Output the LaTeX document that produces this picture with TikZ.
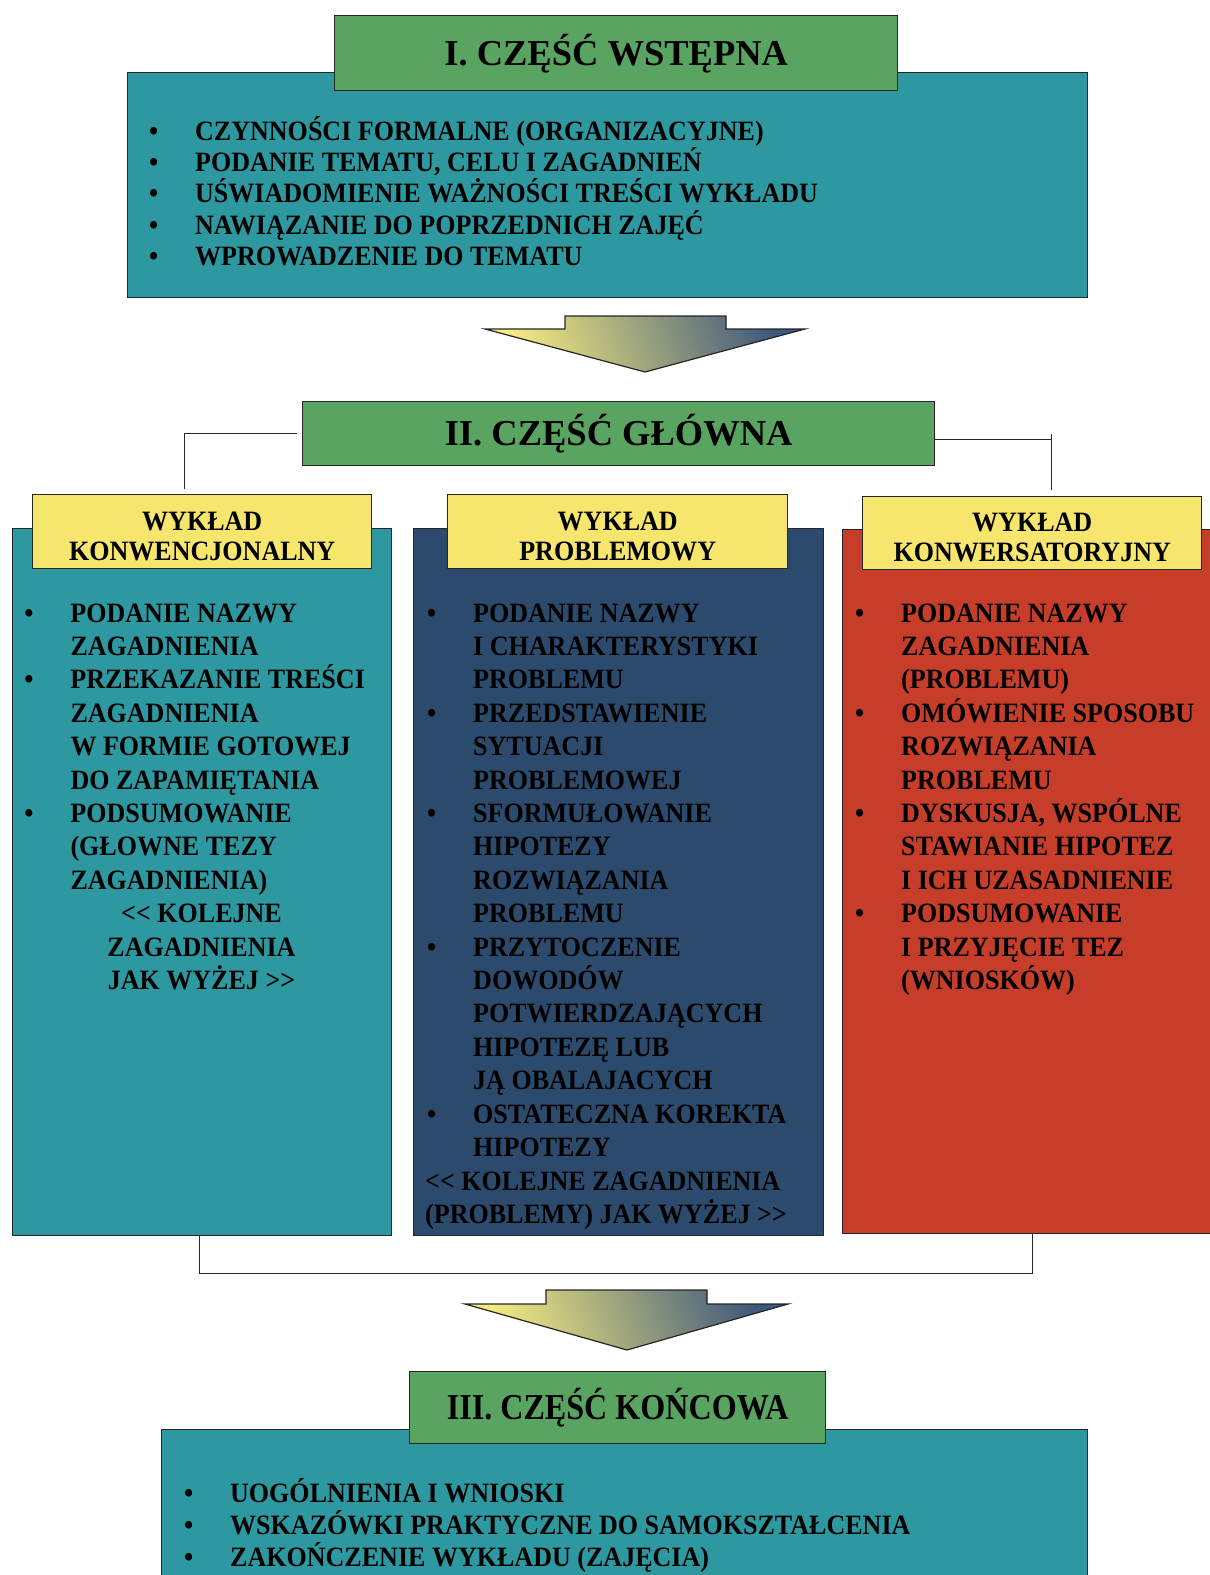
\documentclass[tikz,border=0pt]{standalone}
\usepackage{fontspec}
\setmainfont{Liberation Serif}
\newfontfamily\bodyfont{Liberation Serif}[FakeStretch=0.93]
\usepackage{tikz}
\usetikzlibrary{calc,positioning}

\definecolor{tealbg}{RGB}{46,152,160}
\definecolor{greenbg}{RGB}{90,164,98}
\definecolor{yellowbg}{RGB}{247,230,110}
\definecolor{navybg}{RGB}{44,74,108}
\definecolor{redbg}{RGB}{198,62,42}
\definecolor{arrowyel}{RGB}{246,236,128}
\definecolor{arrowblue}{RGB}{62,88,124}

\newcommand{\bul}{\leavevmode\llap{\textbullet\hspace{37pt}}}
\newcommand{\linelist}[1]{\begin{minipage}[t]{1000pt}\raggedright\lineskiplimit=-\maxdimen #1\end{minipage}}
\newcommand{\headtext}[1]{\begin{minipage}[c]{336pt}\centering\lineskiplimit=-\maxdimen\vspace*{9pt}#1\end{minipage}}

\begin{document}
\begin{tikzpicture}[x=1pt,y=-1pt]
  \tikzstyle{box} = [draw=black!85, line width=1.4pt, inner sep=0pt, anchor=north west]
  \tikzstyle{title} = [box, fill=greenbg, font=\bfseries\fontsize{36.5}{40}\selectfont]
  \tikzstyle{head} = [box, fill=yellowbg, font=\bodyfont\bfseries\fontsize{28}{30}\selectfont]
  \tikzstyle{list} = [inner sep=0pt, anchor=base west, font=\bodyfont\bfseries\fontsize{28}{33.4}\selectfont]
  \tikzstyle{conn} = [line width=1.2pt, draw=black!85]
  \tikzstyle{arrowshape} = [draw=black!85, line width=1.2pt, left color=arrowyel, middle color=arrowyel!70!arrowblue, right color=arrowblue, shading angle=110]

  \useasboundingbox (0,0) rectangle (1210,1575);

  % part I
  \node[box, fill=tealbg, minimum width=960pt, minimum height=225pt] (intro) at (126.5,72) {};
  \node[title, minimum width=563pt, minimum height=75pt] (introtitle) at (334,15) {I. CZĘŚĆ WSTĘPNA};
  \node[list, font=\bodyfont\bfseries\fontsize{28}{31.4}\selectfont] (introlist) at (195,140) {\linelist{
    \bul CZYNNOŚCI FORMALNE (ORGANIZACYJNE)\\
    \bul PODANIE TEMATU, CELU I ZAGADNIEŃ\\
    \bul UŚWIADOMIENIE WAŻNOŚCI TREŚCI WYKŁADU\\
    \bul NAWIĄZANIE DO POPRZEDNICH ZAJĘĆ\\
    \bul WPROWADZENIE DO TEMATU}};

  \filldraw[arrowshape] (565,316) -- (726,316) -- (726,329) -- (805,329) -- (645,372) -- (485,329) -- (565,329) -- cycle;

  % part II
  \node[title, minimum width=632pt, minimum height=64pt] (maintitle) at (302,401) {II. CZĘŚĆ GŁÓWNA};

  \node[box, fill=tealbg, minimum width=379pt, minimum height=707pt] (convcol) at (12,528) {};
  \node[box, fill=navybg, minimum width=410pt, minimum height=707pt] (probcol) at (413,528) {};
  \node[box, fill=redbg, minimum width=380pt, minimum height=704pt] (convscol) at (842,529) {};

  \node[head, minimum width=339pt, minimum height=74pt] (convhead) at (32,494) {\headtext{WYKŁAD\\KONWENCJONALNY}};
  \node[head, minimum width=340pt, minimum height=74pt] (probhead) at (447,494) {\headtext{WYKŁAD\\PROBLEMOWY}};
  \node[head, minimum width=339pt, minimum height=73pt] (convshead) at (862,496) {\headtext{WYKŁAD\\KONWERSATORYJNY}};

  \draw[conn, shorten <=5pt, shorten >=5pt] (maintitle.west) -| ([xshift=-18pt]convhead.north);
  \draw[conn, shorten >=6pt] ([yshift=-5.5pt]maintitle.east) -| ([xshift=19.5pt]convshead.north);
  \draw[conn, shorten <=6pt] ([xshift=19.5pt]convshead.north) -- ++(0,-62);

  \node[list] (convlist) at (70.3,622) {\linelist{
    \bul PODANIE NAZWY\\
    ZAGADNIENIA\\
    \bul PRZEKAZANIE TREŚCI\\
    ZAGADNIENIA\\
    W FORMIE GOTOWEJ\\
    DO ZAPAMIĘTANIA\\
    \bul PODSUMOWANIE\\
    (GŁOWNE TEZY\\
    ZAGADNIENIA)}};
  \node[list, anchor=base] (convnext) at (201.5,922.6) {\begin{minipage}[t]{300pt}\centering\lineskiplimit=-\maxdimen
    <\kern0pt< KOLEJNE\\
    ZAGADNIENIA\\
    JAK WYŻEJ >\kern0pt>\end{minipage}};

  \node[list] (problist) at (473,622) {\linelist{
    \bul PODANIE NAZWY\\
    I CHARAKTERYSTYKI\\
    PROBLEMU\\
    \bul PRZEDSTAWIENIE\\
    SYTUACJI\\
    PROBLEMOWEJ\\
    \bul SFORMUŁOWANIE\\
    HIPOTEZY\\
    ROZWIĄZANIA\\
    PROBLEMU\\
    \bul PRZYTOCZENIE\\
    DOWODÓW\\
    POTWIERDZAJĄCYCH\\
    HIPOTEZĘ LUB\\
    JĄ OBALAJACYCH\\
    \bul OSTATECZNA KOREKTA\\
    HIPOTEZY}};
  \node[list] (probnext) at (425,1190) {\linelist{
    <\kern0pt< KOLEJNE ZAGADNIENIA\\
    (PROBLEMY) JAK WYŻEJ >\kern0pt>}};

  \node[list] (convslist) at (901,622) {\linelist{
    \bul PODANIE NAZWY\\
    ZAGADNIENIA\\
    (PROBLEMU)\\
    \bul OMÓWIENIE SPOSOBU\\
    ROZWIĄZANIA\\
    PROBLEMU\\
    \bul DYSKUSJA, WSPÓLNE\\
    STAWIANIE HIPOTEZ\\
    I ICH UZASADNIENIE\\
    \bul PODSUMOWANIE\\
    I PRZYJĘCIE TEZ\\
    (WNIOSKÓW)}};

  \draw[conn] ([xshift=-2.5pt]convcol.south) -- ++(0,37) -| (convscol.south);

  \filldraw[arrowshape] (546,1290) -- (707,1290) -- (707,1304) -- (788,1304) -- (627,1350) -- (465,1304) -- (546,1304) -- cycle;

  % part III
  \node[box, fill=tealbg, minimum width=926pt, minimum height=160pt] (closing) at (161,1429) {};
  \node[title, minimum width=416pt, minimum height=72pt] (endtitle) at (409,1371) {\scalebox{0.88}[1]{III. CZĘŚĆ KOŃCOWA}};
  \node[list, font=\bodyfont\bfseries\fontsize{28}{32}\selectfont] (closinglist) at (230,1502) {\linelist{
    \bul UOGÓLNIENIA I WNIOSKI\\
    \bul WSKAZÓWKI PRAKTYCZNE DO SAMOKSZTAŁCENIA\\
    \bul ZAKOŃCZENIE WYKŁADU (ZAJĘCIA)}};
\end{tikzpicture}
\end{document}
